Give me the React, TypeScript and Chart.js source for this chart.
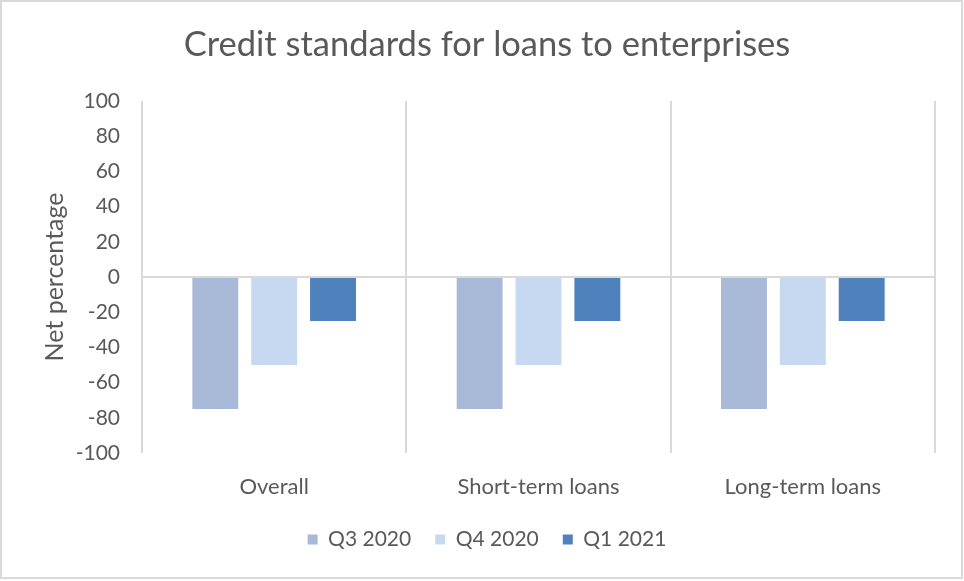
import React, { useEffect, useRef } from "react";
import { Chart, registerables } from "chart.js";

Chart.register(...registerables);

const categories = ["Overall", "Short-term loans", "Long-term loans"];
const seriesNames = ["Q3 2020", "Q4 2020", "Q1 2021"];
const q3_2020 = [-75, -75, -75];
const q4_2020 = [-50, -50, -50];
const q1_2021 = [-25, -25, -25];
const seriesColors = ["#A9B9D8", "#C6D9F0", "#4F81BD"];
const yMin = -100;
const yMax = 100;
const yStep = 20;

const FONT = "Lato, 'Open Sans', sans-serif";
const TEXT = "#595959";
const GRID = "#D9D9D9";

const frame = {
  id: "frame",
  afterDraw(chart: any) {
    const ctx = chart.ctx;
    ctx.save();
    ctx.strokeStyle = GRID;
    ctx.lineWidth = 2;
    ctx.strokeRect(1, 1, 961, 577);
    ctx.restore();
  },
};

export default function App() {
  const ref = useRef<HTMLCanvasElement | null>(null);
  useEffect(() => {
    if (!ref.current) return;
    const data = [q3_2020, q4_2020, q1_2021];
    const chart = new Chart(ref.current, {
      type: "bar",
      data: {
        labels: categories,
        datasets: seriesNames.map((n, i) => ({
          label: n,
          data: data[i],
          backgroundColor: seriesColors[i],
          borderWidth: 0,
          categoryPercentage: 0.668,
          barPercentage: 0.78,
        })),
      },
      options: {
        responsive: false,
        animation: false,
        devicePixelRatio: 1,
        layout: { padding: { left: 39, right: 29, top: 0, bottom: 21 } },
        plugins: {
          title: {
            display: true,
            text: "Credit standards for loans to enterprises",
            color: TEXT,
            font: { family: FONT, size: 34.5, weight: "normal" },
            padding: { top: 24, bottom: 35.6 },
          },
          legend: {
            position: "bottom",
            labels: {
              boxWidth: 10,
              boxHeight: 10,
              padding: 24,
              color: TEXT,
              font: { family: FONT, size: 21 },
            },
          },
          tooltip: { enabled: false },
        },
        scales: {
          x: {
            grid: { display: true, color: GRID, lineWidth: 2, drawTicks: false, offset: true },
            border: { display: false },
            ticks: { color: TEXT, font: { family: FONT, size: 22 }, padding: 21 },
            afterFit: (s: any) => { s.height = 52; },
          },
          y: {
            min: yMin,
            max: yMax,
            ticks: { stepSize: yStep, color: TEXT, font: { family: FONT, size: 21 }, padding: 22 },
            grid: {
              drawTicks: false,
              lineWidth: 2,
              color: (c: any) => (c.tick && c.tick.value === 0 ? GRID : "rgba(0,0,0,0)"),
            },
            border: { display: false },
            title: {
              display: true,
              text: "Net percentage",
              color: TEXT,
              font: { family: FONT, size: 25 },
              padding: { top: 1, bottom: 0 },
            },
            afterFit: (s: any) => { s.width = 103; },
          },
        },
      },
      plugins: [frame],
    });
    return () => chart.destroy();
  }, []);
  return (
    <div style={{ position: "absolute", left: 0, top: 0, width: 964, height: 581, background: "#fff" }}>
      <canvas ref={ref} width={964} height={581} style={{ display: "block" }} />
    </div>
  );
}
